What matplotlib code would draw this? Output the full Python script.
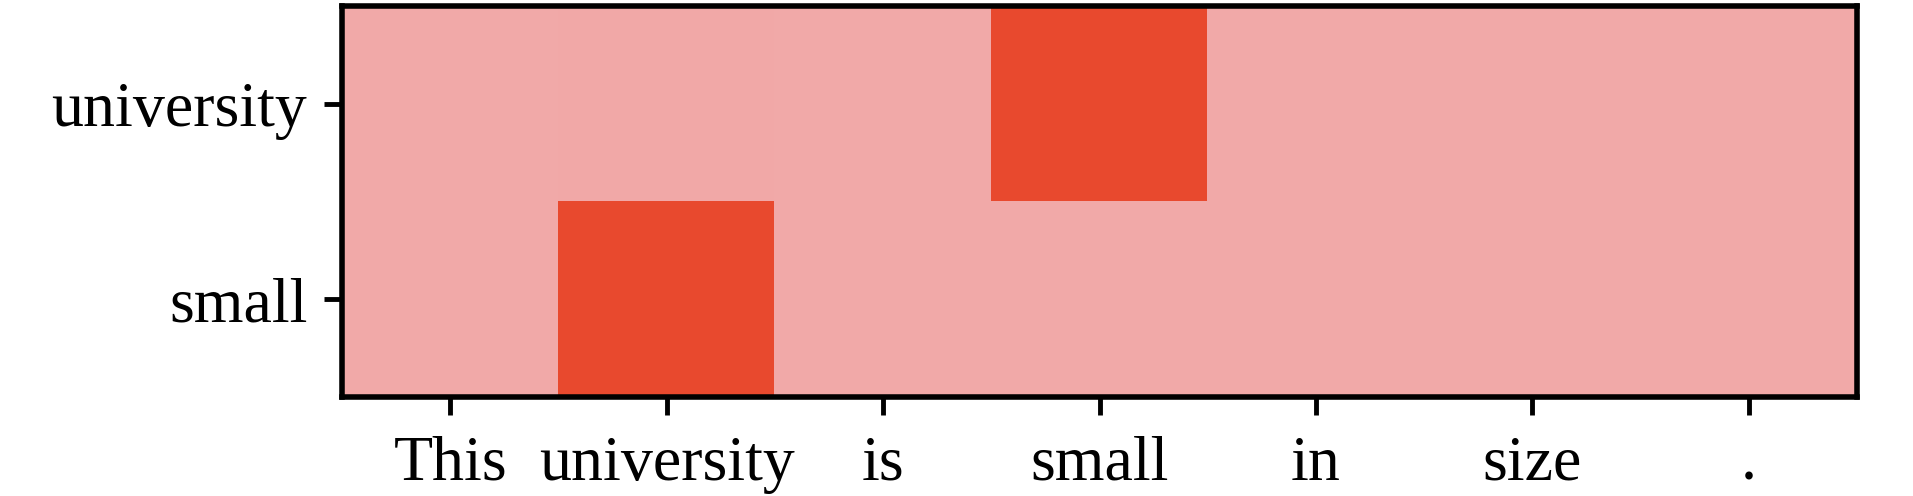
import numpy as np
import matplotlib
matplotlib.use("Agg")
import matplotlib.pyplot as plt
from matplotlib.colors import LinearSegmentedColormap

# sentence tokens (columns) and query words (rows)
tokens = ["This", "university", "is", "small", "in", "size", "."]
rows = ["university", "small"]

# attention weights
weights = [
    [0.02, 0.03, 0.02, 0.98, 0.02, 0.02, 0.02],  # university
    [0.02, 0.98, 0.02, 0.02, 0.02, 0.02, 0.02],  # small
]

plt.rcParams['font.family'] = ['Liberation Serif', 'DejaVu Serif']

fig = plt.figure(figsize=(19.13, 4.96), dpi=100)
ax = fig.add_axes([342 / 1913, (496 - 397) / 496, (1857 - 342) / 1913, (397 - 6) / 496])

cmap = LinearSegmentedColormap.from_list("att", ["#F2ABAB", "#E8482C"])
ax.imshow(np.array(weights), cmap=cmap, vmin=0, vmax=1, aspect='auto',
          interpolation='nearest')

ax.set_xticks(range(len(tokens)))
ax.set_xticklabels(tokens)
ax.set_yticks(range(len(rows)))
ax.set_yticklabels(rows)

ax.tick_params(axis='both', direction='out', length=13, width=3.5,
               labelsize=46, color='black')
ax.tick_params(axis='x', pad=15)
ax.tick_params(axis='y', pad=12)

for s in ax.spines.values():
    s.set_linewidth(4)
    s.set_color('black')

fig.savefig("out.png", dpi=100)
